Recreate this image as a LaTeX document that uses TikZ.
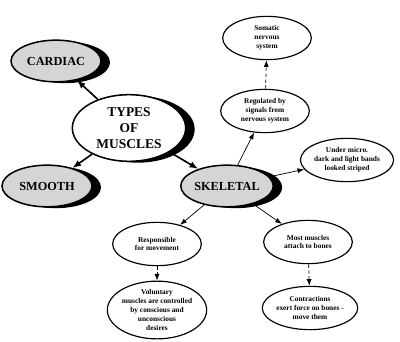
\documentclass[tikz,border=0pt]{standalone}
\usepackage{fontspec}
\setmainfont{Liberation Serif}
\usetikzlibrary{arrows.meta,shadows,shapes.geometric}

\begin{document}
\begin{tikzpicture}[x=0.03cm, y=-0.03cm,
  every node/.style={font=\bfseries, align=center},
  bubble/.style={draw, ellipse, line width=1pt, fill=white, inner sep=0pt,
    minimum width=2.66cm, minimum height=1.3cm, font=\fontsize{6.3}{7.6}\selectfont\bfseries},
  kind/.style={draw, ellipse, line width=1.3pt, fill=gray!33, inner sep=0pt,
    minimum width=2.7cm, minimum height=1.25cm, font=\fontsize{10.5}{12}\selectfont\bfseries,
    drop shadow={shadow xshift=0.27cm, shadow yshift=-0.04cm, fill=black, opacity=1}},
  hub/.style={kind, fill=white, minimum width=3.4cm, minimum height=2.0cm,
    font=\fontsize{11.5}{13.5}\selectfont\bfseries},
  bigedge/.style={-{Latex[length=2.6mm, width=2mm]}, line width=1.4pt},
  edge/.style={-{Latex[length=2mm, width=1.5mm]}, line width=0.6pt},
  dashedge/.style={edge, densely dashed}]
  \useasboundingbox (0,0) rectangle (400,341);
  % the kinds of muscle
  \node[hub] (types) at (129,128) {TYPES\\OF\\MUSCLES};
  \node[kind] (cardiac) at (56,61) {CARDIAC};
  \node[kind] (smooth) at (47,186) {SMOOTH};
  \node[kind] (skeletal) at (227,186) {SKELETAL};
  % facts about skeletal muscle
  \node[bubble] (somatic) at (267,38) {Somatic\\nervous\\system};
  \node[bubble] (regulated) at (265,111) {Regulated by\\signals from\\nervous system};
  \node[bubble] (micro) at (347,160) {Under micro.\\dark and light bands\\looked striped};
  \node[bubble] (movement) at (157,244) {Responsible\\for movement};
  \node[bubble, minimum width=2.5cm] (voluntary) at (157,310) {Voluntary\\muscles are controlled\\by conscious and\\unconscious\\desires};
  \node[bubble] (bones) at (308,242) {Most muscles\\attach to bones};
  \node[bubble] (force) at (310,308) {Contractions\\exert force on bones -\\move them};
  \draw[bigedge] (types) -- (cardiac);
  \draw[bigedge] (types) -- (smooth);
  \draw[bigedge] (types) -- (skeletal);
  \draw[edge] (skeletal) -- (regulated);
  \draw[edge] (skeletal) -- (micro);
  \draw[edge] (skeletal) -- (movement);
  \draw[edge] (skeletal) -- (bones);
  \draw[dashedge] (regulated) -- (somatic);
  \draw[dashedge] (movement) -- (voluntary);
  \draw[dashedge] (bones) -- (force);
\end{tikzpicture}
\end{document}
